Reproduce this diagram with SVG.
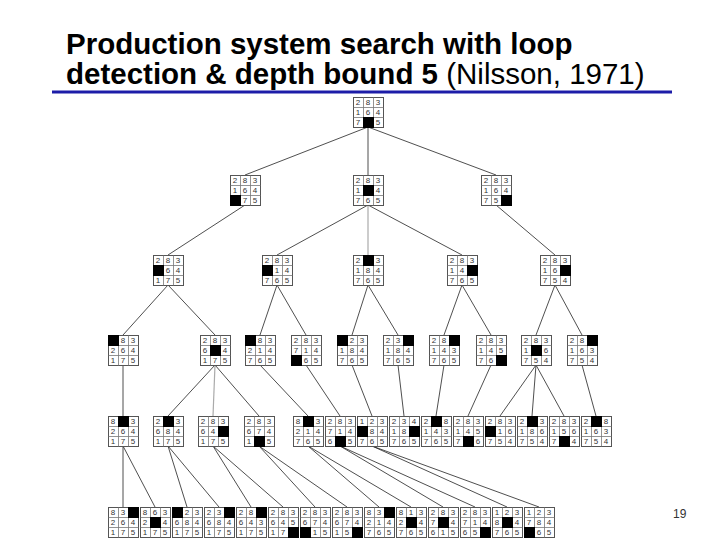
<svg xmlns="http://www.w3.org/2000/svg" xmlns:xlink="http://www.w3.org/1999/xlink" width="720" height="540" viewBox="0 0 720 540">
<style>
.t{font-family:"Liberation Sans",Arial,sans-serif;font-size:8px;fill:#333;text-anchor:middle}
.b{fill:#000}
.e line{stroke:#222;stroke-width:0.8}
.e line.g{stroke:#aaa;stroke-width:1.2}
.ttl{font-family:"Liberation Sans",Arial,sans-serif;font-size:29.5px;fill:#000}
</style>
<defs>
<g id="grid"><rect x="0.5" y="0.5" width="30" height="30" fill="#fff" stroke="#555" stroke-width="1"/><path d="M10.5 0.5V30.5M20.5 0.5V30.5M0.5 10.5H30.5M0.5 20.5H30.5" stroke="#777" stroke-width="0.8" fill="none"/></g>
</defs>
<rect width="720" height="540" fill="#fff"/>
<text class="ttl" x="66" y="54" font-weight="bold">Production system search with loop</text>
<text class="ttl" x="66" y="84"><tspan font-weight="bold">detection &amp; depth bound 5 </tspan>(Nilsson, 1971)</text>
<line x1="52" y1="92" x2="672" y2="92" stroke="#1c1ca8" stroke-width="3"/>
<text x="673" y="518" font-family="Liberation Sans,Arial,sans-serif" font-size="12" fill="#333">19</text>
<g class="e">
<line x1="368" y1="127" x2="245" y2="175"/><line x1="368" y1="127" x2="368" y2="175"/><line x1="368" y1="127" x2="496" y2="175"/>
<line x1="245" y1="205" x2="168" y2="255"/>
<line x1="368" y1="205" x2="277" y2="255"/><line class="g" x1="368" y1="205" x2="368" y2="255"/><line x1="368" y1="205" x2="462" y2="255"/>
<line x1="496" y1="205" x2="555" y2="255"/>
<line x1="168" y1="285" x2="123" y2="335"/><line x1="168" y1="285" x2="215" y2="335"/>
<line x1="277" y1="285" x2="260" y2="335"/><line x1="277" y1="285" x2="306" y2="335"/>
<line x1="368" y1="285" x2="352" y2="335"/><line x1="368" y1="285" x2="398" y2="335"/>
<line x1="462" y1="285" x2="444" y2="335"/><line x1="462" y1="285" x2="491" y2="335"/>
<line x1="555" y1="285" x2="536" y2="335"/><line x1="555" y1="285" x2="582" y2="335"/>
<line x1="123" y1="365" x2="123" y2="416"/>
<line x1="215" y1="365" x2="168" y2="416"/><line class="g" x1="215" y1="365" x2="213" y2="416"/><line x1="215" y1="365" x2="259" y2="416"/>
<line x1="260" y1="365" x2="308" y2="416"/><line x1="306" y1="365" x2="340" y2="416"/>
<line x1="352" y1="365" x2="372" y2="416"/><line x1="398" y1="365" x2="404" y2="416"/>
<line x1="444" y1="365" x2="436" y2="416"/><line x1="491" y1="365" x2="468" y2="416"/>
<line x1="536" y1="365" x2="500" y2="416"/><line x1="536" y1="365" x2="532" y2="416"/><line x1="536" y1="365" x2="564" y2="416"/>
<line x1="582" y1="365" x2="596" y2="416"/>
<line x1="123" y1="446" x2="123" y2="507"/><line x1="123" y1="446" x2="155" y2="507"/>
<line x1="168" y1="446" x2="187" y2="507"/><line x1="168" y1="446" x2="219" y2="507"/>
<line x1="213" y1="446" x2="251" y2="507"/><line x1="213" y1="446" x2="283" y2="507"/>
<line x1="259" y1="446" x2="315" y2="507"/><line x1="259" y1="446" x2="347" y2="507"/>
<line x1="308" y1="446" x2="379" y2="507"/><line x1="308" y1="446" x2="411" y2="507"/>
<line x1="340" y1="446" x2="443" y2="507"/><line x1="340" y1="446" x2="475" y2="507"/>
<line x1="372" y1="446" x2="507" y2="507"/><line x1="372" y1="446" x2="539" y2="507"/>
</g>
<g id="r" transform="translate(353,97)"><use href="#grid"/><rect class="b" x="10" y="20" width="11" height="11"/><text class="t" x="5 15 25" y="8">283</text><text class="t" x="5 15 25" y="18">164</text><text class="t" x="5 25" y="28">75</text></g>
<g id="a1" transform="translate(230,175)"><use href="#grid"/><rect class="b" x="0" y="20" width="11" height="11"/><text class="t" x="5 15 25" y="8">283</text><text class="t" x="5 15 25" y="18">164</text><text class="t" x="15 25" y="28">75</text></g>
<g id="a2" transform="translate(353,175)"><use href="#grid"/><rect class="b" x="10" y="10" width="11" height="11"/><text class="t" x="5 15 25" y="8">283</text><text class="t" x="5 25" y="18">14</text><text class="t" x="5 15 25" y="28">765</text></g>
<g id="a3" transform="translate(481,175)"><use href="#grid"/><rect class="b" x="20" y="20" width="11" height="11"/><text class="t" x="5 15 25" y="8">283</text><text class="t" x="5 15 25" y="18">164</text><text class="t" x="5 15" y="28">75</text></g>
<g id="b1" transform="translate(153,255)"><use href="#grid"/><rect class="b" x="0" y="10" width="11" height="11"/><text class="t" x="5 15 25" y="8">283</text><text class="t" x="15 25" y="18">64</text><text class="t" x="5 15 25" y="28">175</text></g>
<g id="b2" transform="translate(262,255)"><use href="#grid"/><rect class="b" x="0" y="10" width="11" height="11"/><text class="t" x="5 15 25" y="8">283</text><text class="t" x="15 25" y="18">14</text><text class="t" x="5 15 25" y="28">765</text></g>
<g id="b3" transform="translate(353,255)"><use href="#grid"/><rect class="b" x="10" y="0" width="11" height="11"/><text class="t" x="5 25" y="8">23</text><text class="t" x="5 15 25" y="18">184</text><text class="t" x="5 15 25" y="28">765</text></g>
<g id="b4" transform="translate(447,255)"><use href="#grid"/><rect class="b" x="20" y="10" width="11" height="11"/><text class="t" x="5 15 25" y="8">283</text><text class="t" x="5 15" y="18">14</text><text class="t" x="5 15 25" y="28">765</text></g>
<g id="b5" transform="translate(540,255)"><use href="#grid"/><rect class="b" x="20" y="10" width="11" height="11"/><text class="t" x="5 15 25" y="8">283</text><text class="t" x="5 15" y="18">16</text><text class="t" x="5 15 25" y="28">754</text></g>
<g id="c1" transform="translate(108,335)"><use href="#grid"/><rect class="b" x="0" y="0" width="11" height="11"/><text class="t" x="15 25" y="8">83</text><text class="t" x="5 15 25" y="18">264</text><text class="t" x="5 15 25" y="28">175</text></g>
<g id="c2" transform="translate(200,335)"><use href="#grid"/><rect class="b" x="10" y="10" width="11" height="11"/><text class="t" x="5 15 25" y="8">283</text><text class="t" x="5 25" y="18">64</text><text class="t" x="5 15 25" y="28">175</text></g>
<g id="c3" transform="translate(245,335)"><use href="#grid"/><rect class="b" x="0" y="0" width="11" height="11"/><text class="t" x="15 25" y="8">83</text><text class="t" x="5 15 25" y="18">214</text><text class="t" x="5 15 25" y="28">765</text></g>
<g id="c4" transform="translate(291,335)"><use href="#grid"/><rect class="b" x="0" y="20" width="11" height="11"/><text class="t" x="5 15 25" y="8">283</text><text class="t" x="5 15 25" y="18">714</text><text class="t" x="15 25" y="28">65</text></g>
<g id="c5" transform="translate(337,335)"><use href="#grid"/><rect class="b" x="0" y="0" width="11" height="11"/><text class="t" x="15 25" y="8">23</text><text class="t" x="5 15 25" y="18">184</text><text class="t" x="5 15 25" y="28">765</text></g>
<g id="c6" transform="translate(383,335)"><use href="#grid"/><rect class="b" x="20" y="0" width="11" height="11"/><text class="t" x="5 15" y="8">23</text><text class="t" x="5 15 25" y="18">184</text><text class="t" x="5 15 25" y="28">765</text></g>
<g id="c7" transform="translate(429,335)"><use href="#grid"/><rect class="b" x="20" y="0" width="11" height="11"/><text class="t" x="5 15" y="8">28</text><text class="t" x="5 15 25" y="18">143</text><text class="t" x="5 15 25" y="28">765</text></g>
<g id="c8" transform="translate(476,335)"><use href="#grid"/><rect class="b" x="20" y="20" width="11" height="11"/><text class="t" x="5 15 25" y="8">283</text><text class="t" x="5 15 25" y="18">145</text><text class="t" x="5 15" y="28">76</text></g>
<g id="c9" transform="translate(521,335)"><use href="#grid"/><rect class="b" x="10" y="10" width="11" height="11"/><text class="t" x="5 15 25" y="8">283</text><text class="t" x="5 25" y="18">16</text><text class="t" x="5 15 25" y="28">754</text></g>
<g id="c10" transform="translate(567,335)"><use href="#grid"/><rect class="b" x="20" y="0" width="11" height="11"/><text class="t" x="5 15" y="8">28</text><text class="t" x="5 15 25" y="18">163</text><text class="t" x="5 15 25" y="28">754</text></g>
<g id="d1" transform="translate(108,416)"><use href="#grid"/><rect class="b" x="10" y="0" width="11" height="11"/><text class="t" x="5 25" y="8">83</text><text class="t" x="5 15 25" y="18">264</text><text class="t" x="5 15 25" y="28">175</text></g>
<g id="d2" transform="translate(153,416)"><use href="#grid"/><rect class="b" x="10" y="0" width="11" height="11"/><text class="t" x="5 25" y="8">23</text><text class="t" x="5 15 25" y="18">684</text><text class="t" x="5 15 25" y="28">175</text></g>
<g id="d3" transform="translate(198,416)"><use href="#grid"/><rect class="b" x="20" y="10" width="11" height="11"/><text class="t" x="5 15 25" y="8">283</text><text class="t" x="5 15" y="18">64</text><text class="t" x="5 15 25" y="28">175</text></g>
<g id="d4" transform="translate(244,416)"><use href="#grid"/><rect class="b" x="10" y="20" width="11" height="11"/><text class="t" x="5 15 25" y="8">283</text><text class="t" x="5 15 25" y="18">674</text><text class="t" x="5 25" y="28">15</text></g>
<g id="d5" transform="translate(293,416)"><use href="#grid"/><rect class="b" x="10" y="0" width="11" height="11"/><text class="t" x="5 25" y="8">83</text><text class="t" x="5 15 25" y="18">214</text><text class="t" x="5 15 25" y="28">765</text></g>
<g id="d6" transform="translate(325,416)"><use href="#grid"/><rect class="b" x="10" y="20" width="11" height="11"/><text class="t" x="5 15 25" y="8">283</text><text class="t" x="5 15 25" y="18">714</text><text class="t" x="5 25" y="28">65</text></g>
<g id="d7" transform="translate(357,416)"><use href="#grid"/><rect class="b" x="0" y="10" width="11" height="11"/><text class="t" x="5 15 25" y="8">123</text><text class="t" x="15 25" y="18">84</text><text class="t" x="5 15 25" y="28">765</text></g>
<g id="d8" transform="translate(389,416)"><use href="#grid"/><rect class="b" x="20" y="10" width="11" height="11"/><text class="t" x="5 15 25" y="8">234</text><text class="t" x="5 15" y="18">18</text><text class="t" x="5 15 25" y="28">765</text></g>
<g id="d9" transform="translate(421,416)"><use href="#grid"/><rect class="b" x="10" y="0" width="11" height="11"/><text class="t" x="5 25" y="8">28</text><text class="t" x="5 15 25" y="18">143</text><text class="t" x="5 15 25" y="28">765</text></g>
<g id="d10" transform="translate(453,416)"><use href="#grid"/><rect class="b" x="10" y="20" width="11" height="11"/><text class="t" x="5 15 25" y="8">283</text><text class="t" x="5 15 25" y="18">145</text><text class="t" x="5 25" y="28">76</text></g>
<g id="d11" transform="translate(485,416)"><use href="#grid"/><rect class="b" x="0" y="10" width="11" height="11"/><text class="t" x="5 15 25" y="8">283</text><text class="t" x="15 25" y="18">16</text><text class="t" x="5 15 25" y="28">754</text></g>
<g id="d12" transform="translate(517,416)"><use href="#grid"/><rect class="b" x="10" y="0" width="11" height="11"/><text class="t" x="5 25" y="8">23</text><text class="t" x="5 15 25" y="18">186</text><text class="t" x="5 15 25" y="28">754</text></g>
<g id="d13" transform="translate(549,416)"><use href="#grid"/><rect class="b" x="10" y="20" width="11" height="11"/><text class="t" x="5 15 25" y="8">283</text><text class="t" x="5 15 25" y="18">156</text><text class="t" x="5 25" y="28">74</text></g>
<g id="d14" transform="translate(581,416)"><use href="#grid"/><rect class="b" x="10" y="0" width="11" height="11"/><text class="t" x="5 25" y="8">28</text><text class="t" x="5 15 25" y="18">163</text><text class="t" x="5 15 25" y="28">754</text></g>
<g id="e1" transform="translate(108,507)"><use href="#grid"/><rect class="b" x="20" y="0" width="11" height="11"/><text class="t" x="5 15" y="8">83</text><text class="t" x="5 15 25" y="18">264</text><text class="t" x="5 15 25" y="28">175</text></g>
<g id="e2" transform="translate(140,507)"><use href="#grid"/><rect class="b" x="10" y="10" width="11" height="11"/><text class="t" x="5 15 25" y="8">863</text><text class="t" x="5 25" y="18">24</text><text class="t" x="5 15 25" y="28">175</text></g>
<g id="e3" transform="translate(172,507)"><use href="#grid"/><rect class="b" x="0" y="0" width="11" height="11"/><text class="t" x="15 25" y="8">23</text><text class="t" x="5 15 25" y="18">684</text><text class="t" x="5 15 25" y="28">175</text></g>
<g id="e4" transform="translate(204,507)"><use href="#grid"/><rect class="b" x="20" y="0" width="11" height="11"/><text class="t" x="5 15" y="8">23</text><text class="t" x="5 15 25" y="18">684</text><text class="t" x="5 15 25" y="28">175</text></g>
<g id="e5" transform="translate(236,507)"><use href="#grid"/><rect class="b" x="20" y="0" width="11" height="11"/><text class="t" x="5 15" y="8">28</text><text class="t" x="5 15 25" y="18">643</text><text class="t" x="5 15 25" y="28">175</text></g>
<g id="e6" transform="translate(268,507)"><use href="#grid"/><rect class="b" x="20" y="20" width="11" height="11"/><text class="t" x="5 15 25" y="8">283</text><text class="t" x="5 15 25" y="18">645</text><text class="t" x="5 15" y="28">17</text></g>
<g id="e7" transform="translate(300,507)"><use href="#grid"/><rect class="b" x="0" y="20" width="11" height="11"/><text class="t" x="5 15 25" y="8">283</text><text class="t" x="5 15 25" y="18">674</text><text class="t" x="15 25" y="28">15</text></g>
<g id="e8" transform="translate(332,507)"><use href="#grid"/><rect class="b" x="20" y="20" width="11" height="11"/><text class="t" x="5 15 25" y="8">283</text><text class="t" x="5 15 25" y="18">674</text><text class="t" x="5 15" y="28">15</text></g>
<g id="e9" transform="translate(364,507)"><use href="#grid"/><rect class="b" x="20" y="0" width="11" height="11"/><text class="t" x="5 15" y="8">83</text><text class="t" x="5 15 25" y="18">214</text><text class="t" x="5 15 25" y="28">765</text></g>
<g id="e10" transform="translate(396,507)"><use href="#grid"/><rect class="b" x="10" y="10" width="11" height="11"/><text class="t" x="5 15 25" y="8">813</text><text class="t" x="5 25" y="18">24</text><text class="t" x="5 15 25" y="28">765</text></g>
<g id="e11" transform="translate(428,507)"><use href="#grid"/><rect class="b" x="10" y="10" width="11" height="11"/><text class="t" x="5 15 25" y="8">283</text><text class="t" x="5 25" y="18">74</text><text class="t" x="5 15 25" y="28">615</text></g>
<g id="e12" transform="translate(460,507)"><use href="#grid"/><rect class="b" x="20" y="20" width="11" height="11"/><text class="t" x="5 15 25" y="8">283</text><text class="t" x="5 15 25" y="18">714</text><text class="t" x="5 15" y="28">65</text></g>
<g id="e13" transform="translate(492,507)"><use href="#grid"/><rect class="b" x="10" y="10" width="11" height="11"/><text class="t" x="5 15 25" y="8">123</text><text class="t" x="5 25" y="18">84</text><text class="t" x="5 15 25" y="28">765</text></g>
<g id="e14" transform="translate(524,507)"><use href="#grid"/><rect class="b" x="0" y="20" width="11" height="11"/><text class="t" x="5 15 25" y="8">123</text><text class="t" x="5 15 25" y="18">784</text><text class="t" x="15 25" y="28">65</text></g>
</svg>
